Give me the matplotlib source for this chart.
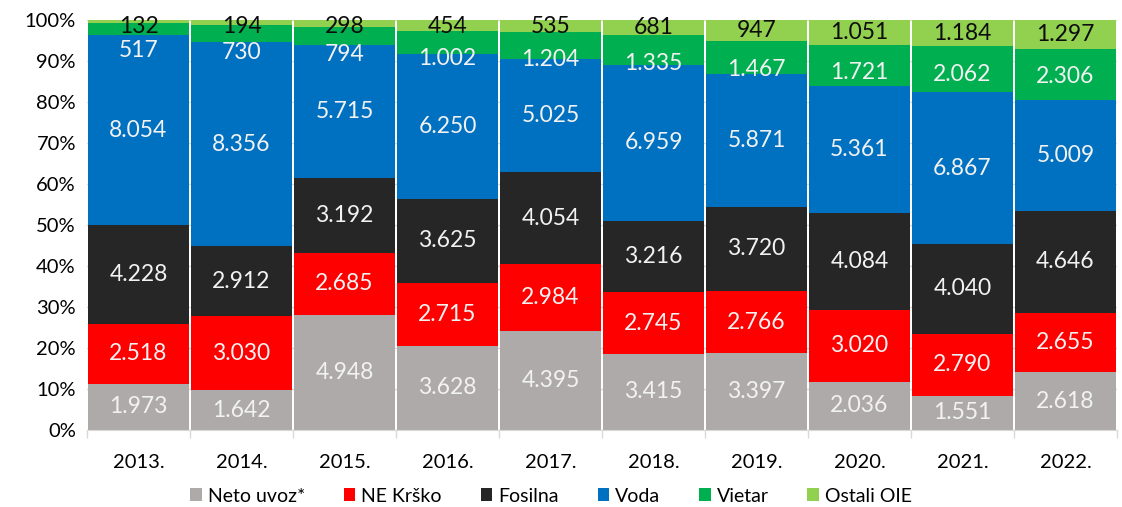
import numpy as np
import matplotlib.pyplot as plt
from matplotlib.ticker import FuncFormatter

plt.rcParams['font.family'] = ['Lato', 'DejaVu Sans']

years = ['2013.', '2014.', '2015.', '2016.', '2017.', '2018.', '2019.', '2020.', '2021.', '2022.']

neto_uvoz = [1973, 1642, 4948, 3628, 4395, 3415, 3397, 2036, 1551, 2618]
ne_krsko = [2518, 3030, 2685, 2715, 2984, 2745, 2766, 3020, 2790, 2655]
fosilna = [4228, 2912, 3192, 3625, 4054, 3216, 3720, 4084, 4040, 4646]
voda = [8054, 8356, 5715, 6250, 5025, 6959, 5871, 5361, 6867, 5009]
vietar = [517, 730, 794, 1002, 1204, 1335, 1467, 1721, 2062, 2306]
ostali = [132, 194, 298, 454, 535, 681, 947, 1051, 1184, 1297]

series = [
    ('Neto uvoz*', neto_uvoz, '#AEAAAA', '#F2F2F2'),
    ('NE Krško', ne_krsko, '#FF0000', '#F2F2F2'),
    ('Fosilna', fosilna, '#262626', '#F2F2F2'),
    ('Voda', voda, '#0070C0', '#F2F2F2'),
    ('Vietar', vietar, '#00B050', '#F2F2F2'),
    ('Ostali OIE', ostali, '#92D050', '#0D0D0D'),
]

def fmt(v):
    return f'{v:,}'.replace(',', '.')

data = np.array([s[1] for s in series], dtype=float)
totals = data.sum(axis=0)
x = np.arange(len(years))

fig = plt.figure(figsize=(11.22, 5.07), dpi=100)
ax = fig.add_axes([87 / 1122, 77 / 507, 1030 / 1122, 410 / 507])

bottom = np.zeros(len(years))
for name, vals, color, tcolor in series:
    pct = np.array(vals) / totals * 100
    ax.bar(x, pct, bottom=bottom, width=0.98, color=color, linewidth=0,
           label=name, zorder=2)
    for i, v in enumerate(vals):
        ylab = bottom[i] + pct[i] / 2
        top = bottom[i] + pct[i]
        # small top segments: labels pushed down like in the original
        if name == 'Vietar':
            ylab = min(ylab, top - 6.8)
        elif name == 'Ostali OIE':
            ylab = min(ylab, 98.3)
        ax.text(x[i], ylab, fmt(v), ha='center', va='center',
                color=tcolor, fontsize=16.5, zorder=3)
    bottom += pct

ax.set_xlim(-0.5, len(years) - 0.5)
ax.set_ylim(0, 100)
ax.set_yticks(np.arange(0, 101, 10))
ax.yaxis.set_major_formatter(FuncFormatter(lambda v, p: f'{int(v)}%'))
ax.grid(axis='y', color='#D9D9D9', linewidth=1, zorder=0)

ax.set_xticks(x)
ax.set_xticklabels(years)
ax.set_xticks(np.arange(-0.5, len(years)), minor=True)
ax.tick_params(axis='x', which='major', length=0, pad=17, labelsize=14.5)
ax.tick_params(axis='x', which='minor', length=6, color='#D9D9D9', width=1)
ax.tick_params(axis='y', length=0, pad=8, labelsize=14.5)

for s in ['top', 'right', 'left']:
    ax.spines[s].set_visible(False)
ax.spines['bottom'].set_color('#D9D9D9')

fig.legend(loc='center', bbox_to_anchor=(551 / 1122, 11 / 507),
           ncol=6, frameon=False, fontsize=14, handlelength=0.6, handleheight=0.6,
           handletextpad=0.3, columnspacing=2.0)

fig.savefig('out.png', dpi=100)
